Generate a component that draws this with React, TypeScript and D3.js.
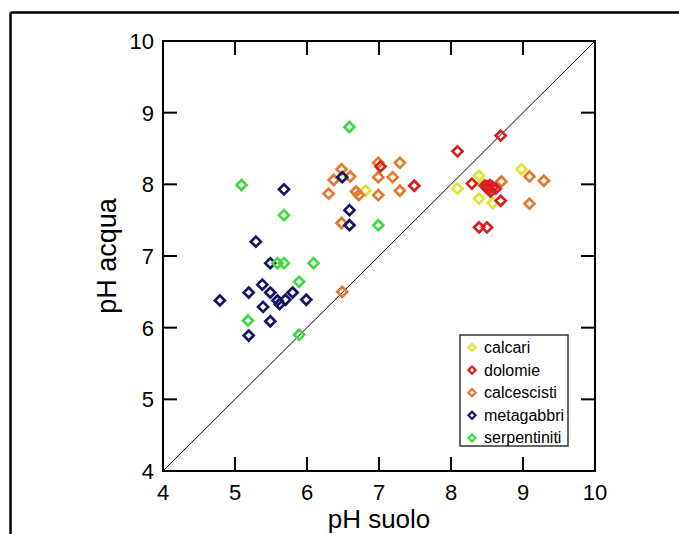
import React from "react";
import * as d3 from "d3";

const xTicks = [4, 5, 6, 7, 8, 9, 10];
const yTicks = [4, 5, 6, 7, 8, 9, 10];

const seriesNames = ["calcari", "dolomie", "calcescisti", "metagabbri", "serpentiniti"];
const seriesColors = ["#e3e336", "#d81e1e", "#e27a2e", "#15156a", "#3fd83f"];

const calcari: [number, number][] = [
  [6.81, 7.91], [8.09, 7.94], [8.39, 8.12], [8.39, 7.8], [8.58, 7.74], [8.98, 8.21], [8.45, 8.0],
];
const dolomie: [number, number][] = [
  [7.02, 8.25], [7.49, 7.98], [8.09, 8.46], [8.69, 8.68], [8.29, 8.01], [8.47, 7.98], [8.52, 7.93],
  [8.58, 7.96], [8.55, 7.9], [8.5, 7.97], [8.54, 7.99], [8.62, 7.94], [8.69, 7.77], [8.39, 7.4], [8.5, 7.4],
];
const calcescisti: [number, number][] = [
  [6.48, 8.21], [6.37, 8.06], [6.6, 8.11], [6.3, 7.87], [6.68, 7.9], [6.72, 7.85], [6.99, 8.3],
  [7.29, 8.3], [6.99, 8.1], [7.19, 8.1], [6.99, 7.85], [7.29, 7.91], [6.48, 7.46], [6.49, 6.5],
  [8.7, 8.04], [9.09, 8.11], [9.29, 8.05], [9.09, 7.73],
];
const metagabbri: [number, number][] = [
  [5.68, 7.93], [6.49, 8.1], [6.59, 7.64], [6.59, 7.43], [5.29, 7.2], [5.49, 6.9], [4.79, 6.38],
  [5.19, 6.49], [5.38, 6.6], [5.49, 6.49], [5.59, 6.38], [5.62, 6.33], [5.7, 6.39], [5.8, 6.49],
  [5.99, 6.39], [5.39, 6.29], [5.49, 6.09], [5.19, 5.89],
];
const serpentiniti: [number, number][] = [
  [6.59, 8.8], [5.09, 7.99], [5.68, 7.57], [6.99, 7.43], [5.59, 6.9], [5.68, 6.9], [6.09, 6.9],
  [5.89, 6.64], [5.18, 6.1], [5.89, 5.9],
];

const allSeries = [calcari, dolomie, calcescisti, metagabbri, serpentiniti];
const drawOrder = [0, 2, 1, 3, 4];

const W = 679;
const H = 534;
const left = 163;
const right = 595;
const top = 41;
const bottom = 471;

const FONT = "'Liberation Sans', Arial, sans-serif";

function diamond(cx: number, cy: number, r: number) {
  const p = d3.path();
  p.moveTo(cx, cy - r);
  p.lineTo(cx + r, cy);
  p.lineTo(cx, cy + r);
  p.lineTo(cx - r, cy);
  p.closePath();
  return p.toString();
}

export default function App() {
  const x = d3.scaleLinear().domain([4, 10]).range([left, right]);
  const y = d3.scaleLinear().domain([4, 10]).range([bottom, top]);
  const tickLen = 14;

  const legX = 460;
  const legY = 335;
  const legW = 108;
  const legH = 111;

  return (
    <div style={{ position: "absolute", left: 0, top: 0 }}>
      <svg width={W} height={H} style={{ display: "block", background: "#fff" }}>
        {/* outer frame */}
        <line x1={10.5} y1={12.5} x2={W} y2={12.5} stroke="#000" strokeWidth={2.5} />
        <line x1={10.5} y1={12.5} x2={10.5} y2={H} stroke="#000" strokeWidth={2.5} />

        {/* diagonal 1:1 */}
        <line x1={x(4)} y1={y(4)} x2={x(10)} y2={y(10)} stroke="#000" strokeWidth={1} />

        {/* points */}
        {drawOrder.map((si) => (
          <g key={si}>
            {allSeries[si].map((d, i) => (
              <path
                key={i}
                d={diamond(x(d[0]), y(d[1]), 5)}
                fill="none"
                stroke={seriesColors[si]}
                strokeWidth={2.7}
              />
            ))}
          </g>
        ))}

        {/* axes box */}
        <rect x={left} y={top} width={right - left} height={bottom - top} fill="none" stroke="#000" strokeWidth={2} />

        {/* ticks */}
        {xTicks.slice(1, -1).map((t) => (
          <g key={"xt" + t}>
            <line x1={x(t)} x2={x(t)} y1={bottom} y2={bottom - tickLen} stroke="#000" strokeWidth={2} />
            <line x1={x(t)} x2={x(t)} y1={top} y2={top + tickLen} stroke="#000" strokeWidth={2} />
          </g>
        ))}
        {yTicks.slice(1, -1).map((t) => (
          <g key={"yt" + t}>
            <line x1={left} x2={left + tickLen} y1={y(t)} y2={y(t)} stroke="#000" strokeWidth={2} />
            <line x1={right} x2={right - tickLen} y1={y(t)} y2={y(t)} stroke="#000" strokeWidth={2} />
          </g>
        ))}

        {/* tick labels */}
        {xTicks.map((t) => (
          <text key={"xl" + t} x={x(t)} y={500} textAnchor="middle" fontFamily={FONT} fontSize={22} fill="#000">
            {t}
          </text>
        ))}
        {yTicks.map((t) => (
          <text key={"yl" + t} x={154} y={y(t) + 8} textAnchor="end" fontFamily={FONT} fontSize={22} fill="#000">
            {t}
          </text>
        ))}

        {/* axis titles */}
        <text x={(left + right) / 2} y={528} textAnchor="middle" fontFamily={FONT} fontSize={26} fill="#000">
          pH suolo
        </text>
        <text
          transform={`translate(116,${(top + bottom) / 2}) rotate(-90)`}
          textAnchor="middle"
          fontFamily={FONT}
          fontSize={27}
          fill="#000"
        >
          pH acqua
        </text>

        {/* legend */}
        <rect x={legX} y={legY} width={legW} height={legH} fill="#fff" stroke="#333" strokeWidth={1.5} />
        {seriesNames.map((name, i) => {
          const cy = legY + 12.5 + i * 22.6;
          return (
            <g key={name}>
              <path d={diamond(legX + 12, cy, 3.6)} fill="none" stroke={seriesColors[i]} strokeWidth={2.2} />
              <text x={legX + 24} y={cy + 5.5} fontFamily={FONT} fontSize={16} fill="#000">
                {name}
              </text>
            </g>
          );
        })}
      </svg>
    </div>
  );
}
